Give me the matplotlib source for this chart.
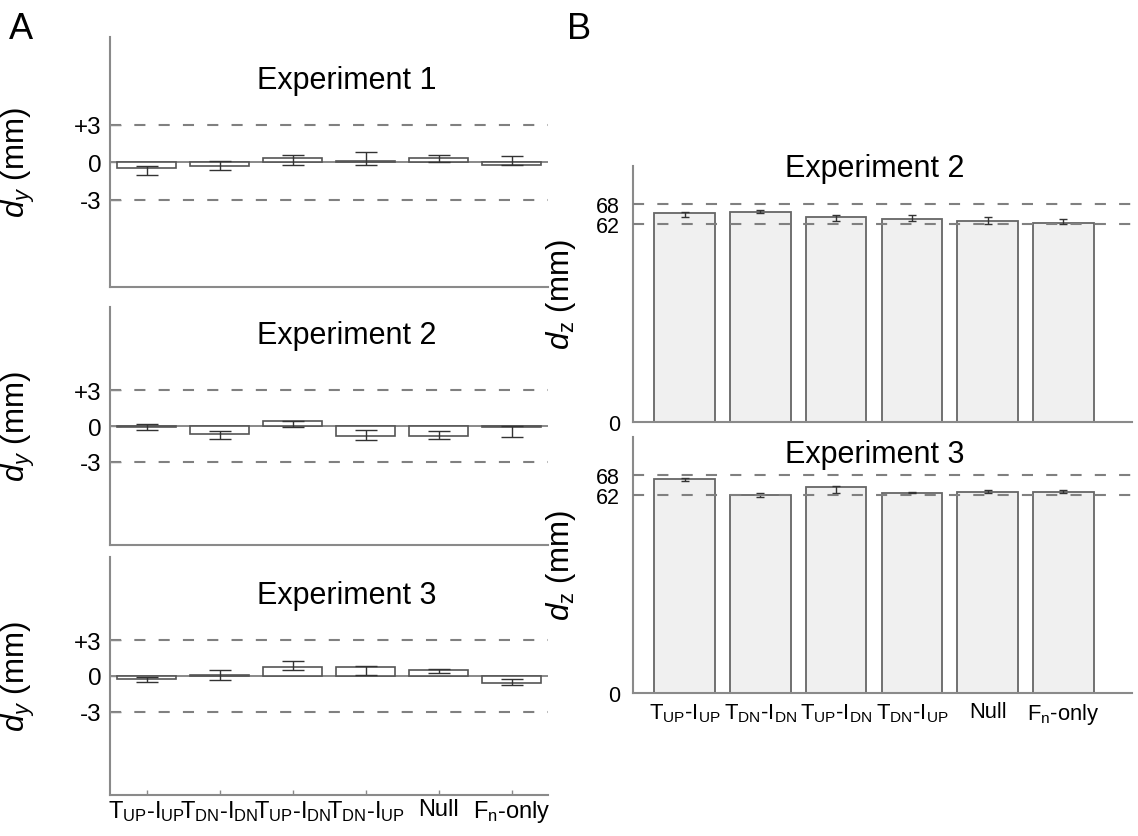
import numpy as np
import matplotlib
matplotlib.use("Agg")
import matplotlib.pyplot as plt

plt.rcParams['font.family'] = ['Liberation Sans', 'DejaVu Sans']
plt.rcParams['mathtext.fontset'] = 'custom'
plt.rcParams['mathtext.rm'] = 'Liberation Sans'
plt.rcParams['mathtext.it'] = 'Liberation Sans:italic'
plt.rcParams['mathtext.bf'] = 'Liberation Sans:bold'
plt.rcParams['lines.scale_dashes'] = False

# ---------------- data ----------------
categories = [r'T$_{\mathrm{UP}}$-I$_{\mathrm{UP}}$', r'T$_{\mathrm{DN}}$-I$_{\mathrm{DN}}$',
              r'T$_{\mathrm{UP}}$-I$_{\mathrm{DN}}$', r'T$_{\mathrm{DN}}$-I$_{\mathrm{UP}}$',
              'Null', r'F$_{\mathrm{n}}$-only']

# Panel A: lateral deviation d_y (mm): bar value, lower cap, upper cap
a_exp1_val = [-0.48, -0.29, 0.32, 0.05, 0.32, -0.20]
a_exp1_lo = [-1.06, -0.66, -0.21, -0.21, 0.00, -0.27]
a_exp1_hi = [-0.29, 0.08, 0.58, 0.77, 0.58, 0.48]

a_exp2_val = [-0.10, -0.69, 0.41, -0.83, -0.83, -0.06]
a_exp2_lo = [-0.30, -1.10, -0.08, -1.18, -1.10, -0.91]
a_exp2_hi = [0.20, -0.41, 0.41, -0.33, -0.41, 0.00]

a_exp3_val = [-0.27, 0.08, 0.77, 0.77, 0.49, -0.55]
a_exp3_lo = [-0.49, -0.33, 0.49, 0.05, 0.27, -0.74]
a_exp3_hi = [-0.08, 0.47, 1.23, 0.85, 0.55, -0.27]

# Panel B: depth d_z (mm)
b_exp2_val = [65.3, 65.6, 64.2, 63.5, 62.7, 62.3]
b_exp2_lo = [64.2, 65.2, 62.7, 62.8, 62.0, 62.0]
b_exp2_hi = [65.6, 66.3, 64.6, 64.6, 64.2, 63.5]

b_exp3_val = [67.0, 62.0, 64.3, 62.6, 62.9, 62.9]
b_exp3_lo = [66.3, 61.4, 62.5, 62.5, 62.5, 62.5]
b_exp3_hi = [66.8, 62.5, 64.7, 62.9, 63.5, 63.5]

a_yticks = [3, 0, -3]
a_yticklabels = ['+3', '0', '-3']
b_yticks = [0, 62, 68]
b_yticklabels = ['0', '62', '68']

# ---------------- styles ----------------
W, H = 1138, 837
fig = plt.figure(figsize=(W / 100, H / 100), dpi=100)

SPINE = '#8a8a8a'
DASH = '#808080'
EDGE = '#555555'
ERR = '#333333'
x = np.arange(1, len(categories) + 1)


def frac_box(left, top, right, bottom):
    return [left / W, 1 - bottom / H, (right - left) / W, (bottom - top) / H]


def style(ax):
    for s in ['top', 'right']:
        ax.spines[s].set_visible(False)
    for s in ['left', 'bottom']:
        ax.spines[s].set_color(SPINE)
        ax.spines[s].set_linewidth(1.5)


def panel_a(ax, val, lo, hi, title, ty, show_x):
    style(ax)
    val = np.array(val); lo = np.array(lo); hi = np.array(hi)
    ax.axhline(0, color=DASH, lw=1.3, zorder=1)
    for yy in (3, -3):
        ax.axhline(yy, color=DASH, lw=1.5, ls=(0, (8, 9.5)), zorder=1)
    ax.bar(x, val, width=0.82, facecolor='white', edgecolor=EDGE, linewidth=1.2, zorder=2)
    yerr = np.vstack([np.abs(val - lo), np.abs(hi - val)])
    ax.errorbar(x, val, yerr=yerr, fmt='none', ecolor=ERR, elinewidth=1.0,
                capsize=8, capthick=1.0, zorder=3)
    ax.set_xlim(0.5, 6.5)
    ax.set_ylim(-10, 10)
    ax.set_yticks(a_yticks)
    ax.set_yticklabels(a_yticklabels)
    ax.tick_params(axis='y', direction='in', length=8, width=1, color=SPINE,
                   labelsize=17.5, pad=6)
    ax.set_xticks(x)
    if show_x:
        ax.set_xticklabels(categories)
        ax.tick_params(axis='x', direction='in', length=3.5, width=1, color=SPINE,
                       labelsize=17, pad=2)
    else:
        ax.set_xticklabels([])
        ax.tick_params(axis='x', length=0)
    ax.set_ylabel(r'$d_y$ (mm)', fontsize=22.5, labelpad=10)
    ax.text(0.541, ty, title, transform=ax.transAxes, ha='center', va='baseline',
            fontsize=22)


def panel_b(ax, val, lo, hi, title, ty, show_x):
    style(ax)
    val = np.array(val); lo = np.array(lo); hi = np.array(hi)
    ax.bar(x, val, width=0.8, facecolor='#f0f0f0', edgecolor='#666666', linewidth=1.3,
           zorder=2)
    yerr = np.vstack([np.abs(val - lo), np.abs(hi - val)])
    ax.errorbar(x, val, yerr=yerr, fmt='none', ecolor=ERR, elinewidth=1.0,
                capsize=3, capthick=1.0, zorder=3)
    for yy in (62, 68):
        ax.axhline(yy, color=DASH, lw=1.5, ls=(0, (8, 9.5)), zorder=4)
    ax.set_xlim(0.31, 6.9)
    ax.set_ylim(0, 80)
    ax.set_yticks(b_yticks)
    ax.set_yticklabels(b_yticklabels)
    ax.tick_params(axis='y', length=0, labelsize=15.5, pad=9)
    ax.set_xticks(x)
    if show_x:
        ax.set_xticklabels(categories)
        ax.tick_params(axis='x', length=0, labelsize=15.8, pad=6)
    else:
        ax.set_xticklabels([])
        ax.tick_params(axis='x', length=0)
    ax.set_ylabel(r'$d_{\mathrm{z}}$ (mm)', fontsize=22.5, labelpad=8)
    ax.text(0.486, ty, title, transform=ax.transAxes, ha='center', va='baseline',
            fontsize=22)


ax1 = fig.add_axes(frac_box(110, 38, 548, 288))
panel_a(ax1, a_exp1_val, a_exp1_lo, a_exp1_hi, 'Experiment 1', 0.796, False)
ax2 = fig.add_axes(frac_box(110, 308, 548, 546))
panel_a(ax2, a_exp2_val, a_exp2_lo, a_exp2_hi, 'Experiment 2', 0.849, False)
ax3 = fig.add_axes(frac_box(110, 558, 548, 796))
panel_a(ax3, a_exp3_val, a_exp3_lo, a_exp3_hi, 'Experiment 3', 0.807, True)

bx1 = fig.add_axes(frac_box(632.5, 167, 1131.5, 423))
panel_b(bx1, b_exp2_val, b_exp2_lo, b_exp2_hi, 'Experiment 2', 0.962, False)
bx2 = fig.add_axes(frac_box(632.5, 438, 1131.5, 694))
panel_b(bx2, b_exp3_val, b_exp3_lo, b_exp3_hi, 'Experiment 3', 0.902, True)

# align y labels like reference
for ax in (ax1, ax2, ax3):
    ax.yaxis.set_label_coords(-(110 - 37) / 438, 0.5)
for ax in (bx1, bx2):
    ax.yaxis.set_label_coords(-(632.5 - 578) / 499, 0.5)

fig.text(9 / W, 1 - 39 / H, 'A', fontsize=26, va='baseline', ha='left')
fig.text(567 / W, 1 - 39 / H, 'B', fontsize=26, va='baseline', ha='left')

fig.savefig('out.png', dpi=100)
